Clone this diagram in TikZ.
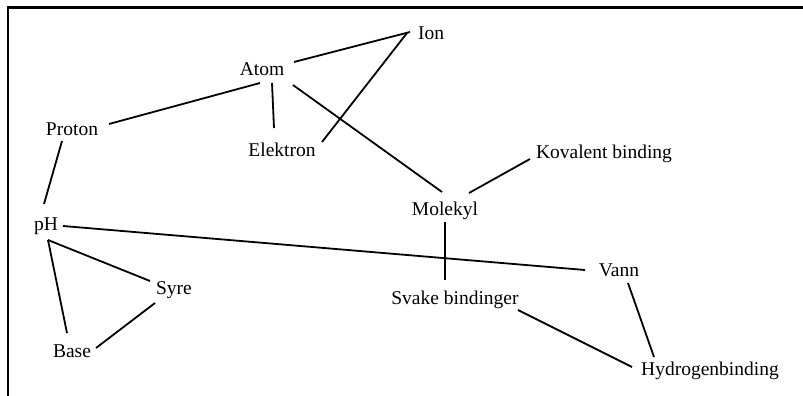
\documentclass[tikz,border=0pt]{standalone}
\usepackage{fontspec}
\setmainfont{Liberation Serif}
\usetikzlibrary{positioning}
\tikzset{
  concept/.style={rectangle, inner sep=2pt, font=\fontsize{19.5}{23}\selectfont},
  link/.style={draw, line width=1.8pt},
  frame/.style={draw, line width=2.2pt},
}
\begin{document}
\begin{tikzpicture}[x=1pt, y=-1pt]
  \useasboundingbox (0,0) rectangle (803,396);
  % frame
  \path[frame] (803,7.5) -- (8,7.5) -- (8,396);

  \node[concept] (ion) at (431,33) {Ion};
  \node[concept] (atom) at (262,69) {Atom};
  \node[concept] (elektron) at (282,150) {Elektron};
  \node[concept] (proton) at (72,129) {Proton};
  \node[concept] (ph) at (46,226) {pH};
  \node[concept] (syre) at (174,290) {Syre};
  \node[concept] (base) at (72,351) {Base};
  \node[concept] (molekyl) at (445,211) {Molekyl};
  \node[concept] (kovalent) at (604,154) {Kovalent binding};
  \node[concept] (vann) at (619,270) {Vann};
  \node[concept] (svake) at (455,300) {Svake bindinger};
  \node[concept] (hydrogen) at (710,371) {Hydrogenbinding};

  % links, fixed to points round the words
  \path[link]
    ([shift={(32,-7)}]atom.center) edge ([shift={(-21,-1)}]ion.center)
    ([shift={(-2,14)}]atom.center) edge ([shift={(37,-5)}]proton.center)
    ([shift={(10,14)}]atom.center) edge ([shift={(-8,-22)}]elektron.center)
    ([shift={(31,16)}]atom.center) edge ([shift={(-3,-19)}]molekyl.center)
    ([shift={(-24,0)}]ion.center) edge ([shift={(40,-8)}]elektron.center)
    ([shift={(-10,12)}]proton.center) edge ([shift={(-2,-22)}]ph.center)
    ([shift={(2,14)}]ph.center) edge ([shift={(-24,-9)}]syre.center)
    ([shift={(2,14)}]ph.center) edge ([shift={(-5,-18)}]base.center)
    ([shift={(17,0)}]ph.center) edge ([shift={(-34,0)}]vann.center)
    ([shift={(-19,13)}]syre.center) edge ([shift={(24,-3)}]base.center)
    ([shift={(24,-18)}]molekyl.center) edge ([shift={(-74,5)}]kovalent.center)
    ([shift={(0,11)}]molekyl.center) edge ([shift={(-10,-20)}]svake.center)
    ([shift={(63,10)}]svake.center) edge ([shift={(-78,-4)}]hydrogen.center)
    ([shift={(9,13)}]vann.center) edge ([shift={(-56,-14)}]hydrogen.center);
\end{tikzpicture}
\end{document}
